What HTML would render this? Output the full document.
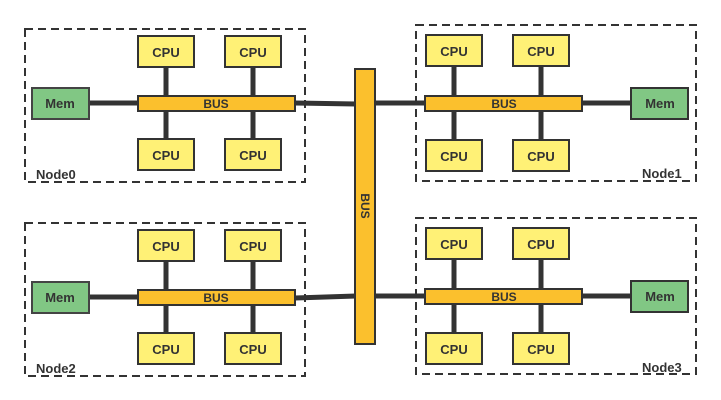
<!DOCTYPE html>
<html><head><meta charset="utf-8"><style>
html,body{margin:0;padding:0;background:#fff;}
svg{display:block;}
text{font-family:"Liberation Sans",sans-serif;font-weight:bold;fill:#333;}
</style></head><body>
<svg width="721" height="400" viewBox="0 0 721 400" xmlns="http://www.w3.org/2000/svg">
<defs>
<g id="n0">
  <rect x="25" y="29" width="280" height="153" fill="none" stroke="#333" stroke-width="2" stroke-dasharray="8,5"/>
  <line x1="166" y1="67" x2="166" y2="139" stroke="#333" stroke-width="5"/>
  <line x1="253" y1="67" x2="253" y2="139" stroke="#333" stroke-width="5"/>
  <line x1="89" y1="103" x2="138" y2="103" stroke="#333" stroke-width="5"/>
  <rect x="138" y="36" width="56" height="31" fill="#fff176" stroke="#333" stroke-width="2"/>
  <rect x="225" y="36" width="56" height="31" fill="#fff176" stroke="#333" stroke-width="2"/>
  <rect x="138" y="139" width="56" height="31" fill="#fff176" stroke="#333" stroke-width="2"/>
  <rect x="225" y="139" width="56" height="31" fill="#fff176" stroke="#333" stroke-width="2"/>
  <rect x="138" y="96" width="157" height="15" fill="#fbc02d" stroke="#333" stroke-width="2"/>
  <rect x="32" y="88" width="57" height="31" fill="#81c784" stroke="#444" stroke-width="2"/>
  <text x="166" y="57" font-size="13" text-anchor="middle">CPU</text>
  <text x="253" y="57" font-size="13" text-anchor="middle">CPU</text>
  <text x="166" y="160" font-size="13" text-anchor="middle">CPU</text>
  <text x="253" y="160" font-size="13" text-anchor="middle">CPU</text>
  <text x="216" y="108" font-size="12" text-anchor="middle">BUS</text>
  <text x="60" y="108" font-size="13" text-anchor="middle">Mem</text>
</g>
<g id="n1">
  <rect x="416" y="25" width="280" height="156" fill="none" stroke="#333" stroke-width="2" stroke-dasharray="8,5"/>
  <line x1="454" y1="66" x2="454" y2="140" stroke="#333" stroke-width="5"/>
  <line x1="541" y1="66" x2="541" y2="140" stroke="#333" stroke-width="5"/>
  <line x1="582" y1="103" x2="631" y2="103" stroke="#333" stroke-width="5"/>
  <rect x="426" y="35" width="56" height="31" fill="#fff176" stroke="#333" stroke-width="2"/>
  <rect x="513" y="35" width="56" height="31" fill="#fff176" stroke="#333" stroke-width="2"/>
  <rect x="426" y="140" width="56" height="31" fill="#fff176" stroke="#333" stroke-width="2"/>
  <rect x="513" y="140" width="56" height="31" fill="#fff176" stroke="#333" stroke-width="2"/>
  <rect x="425" y="96" width="157" height="15" fill="#fbc02d" stroke="#333" stroke-width="2"/>
  <rect x="631" y="88" width="57" height="31" fill="#81c784" stroke="#333" stroke-width="2"/>
  <text x="454" y="56" font-size="13" text-anchor="middle">CPU</text>
  <text x="541" y="56" font-size="13" text-anchor="middle">CPU</text>
  <text x="454" y="161" font-size="13" text-anchor="middle">CPU</text>
  <text x="541" y="161" font-size="13" text-anchor="middle">CPU</text>
  <text x="504" y="108" font-size="12" text-anchor="middle">BUS</text>
  <text x="660" y="108" font-size="13" text-anchor="middle">Mem</text>
</g>
</defs>
<use href="#n0"/>
<use href="#n0" transform="translate(0,194)"/>
<use href="#n1"/>
<use href="#n1" transform="translate(0,193)"/>
<text x="36" y="179" font-size="13">Node0</text>
<text x="36" y="373" font-size="13">Node2</text>
<text x="642" y="178" font-size="13">Node1</text>
<text x="642" y="372" font-size="13">Node3</text>
<line x1="295" y1="103" x2="356" y2="104" stroke="#333" stroke-width="5"/>
<line x1="374" y1="103" x2="425" y2="103" stroke="#333" stroke-width="5"/>
<line x1="295" y1="298" x2="356" y2="296" stroke="#333" stroke-width="5"/>
<line x1="374" y1="296" x2="425" y2="296" stroke="#333" stroke-width="5"/>
<rect x="355" y="69" width="20" height="275" fill="#fbc02d" stroke="#333" stroke-width="2"/>
<text x="0" y="0" font-size="12" text-anchor="middle" transform="translate(361,206) rotate(90)">BUS</text>
</svg>
</body></html>
